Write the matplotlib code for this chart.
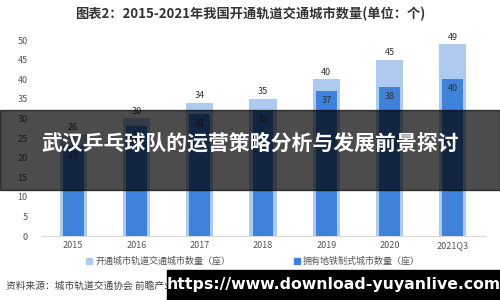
import matplotlib.pyplot as plt
from matplotlib.patches import Rectangle

plt.rcParams['font.family'] = ['Noto Sans CJK SC', 'DejaVu Sans']

years = ["2015", "2016", "2017", "2018", "2019", "2020", "2021Q3"]
rail_cities = [26, 30, 34, 35, 40, 45, 49]
metro_cities = [23, 28, 31, 32, 37, 38, 40]
yticks = [0, 5, 10, 15, 20, 25, 30, 35, 40, 45, 50]

light = "#aecbef"
dark = "#3f82dc"

fig = plt.figure(figsize=(5, 3), dpi=100)
ax = fig.add_axes([0.083, 0.2133, 0.886, 0.6533])

x = range(len(years))
ax.bar(x, rail_cities, width=0.43, color=light, zorder=2)
ax.bar(x, metro_cities, width=0.33, color=dark, zorder=3)

for i, v in enumerate(rail_cities):
    ax.text(i, v + 0.6, str(v), ha="center", va="bottom", fontsize=6.5, color="#333333")
for i, v in enumerate(metro_cities):
    ax.text(i, v - 1.2, str(v), ha="center", va="top", fontsize=6.5, color="#333333", zorder=4)

ax.set_xlim(-0.5, 6.5)
ax.set_ylim(0, 50)
ax.set_yticks(yticks)
ax.set_xticks(list(x))
ax.set_xticklabels(years)
ax.tick_params(axis="both", length=0, labelsize=6.5, colors="#555555")
ax.tick_params(axis="y", pad=10)
for s in ["top", "right", "left"]:
    ax.spines[s].set_visible(False)
ax.spines["bottom"].set_color("#d9d9d9")

fig.text(0.5, 0.953, "图表2：2015-2021年我国开通轨道交通城市数量(单位：个)",
         ha="center", va="center", fontsize=9.5, fontweight="bold", color="#333333")

# legend
fig.patches.append(Rectangle((0.172, 0.12), 0.012, 0.02, transform=fig.transFigure, color=light))
fig.text(0.19, 0.128, "开通城市轨道交通城市数量（座）", va="center", fontsize=6.5, color="#555555")
fig.patches.append(Rectangle((0.588, 0.12), 0.012, 0.02, transform=fig.transFigure, color=dark))
fig.text(0.606, 0.128, "拥有地铁制式城市数量（座）", va="center", fontsize=6.5, color="#555555")

fig.text(0.012, 0.048, "资料来源：城市轨道交通协会 前瞻产业研究院", va="center", fontsize=7, color="#444444")

# overlay banner
fig.patches.append(Rectangle((0, 0.3667), 1, 0.2667, transform=fig.transFigure,
                             color="black", alpha=0.7, zorder=10))
fig.text(0.5, 0.523, "武汉乒乓球队的运营策略分析与发展前景探讨", ha="center", va="center",
         fontsize=15, fontweight="bold", color="white", zorder=11)

# url bar
fig.patches.append(Rectangle((0.334, 0), 0.666, 0.1, transform=fig.transFigure,
                             color="black", zorder=10))
fig.text(0.668, 0.05, "https://www.download-yuyanlive.com", ha="center", va="center",
         fontsize=11.3, fontweight="bold", color="white", zorder=11, family="DejaVu Sans")

fig.savefig("out.png", dpi=100)
